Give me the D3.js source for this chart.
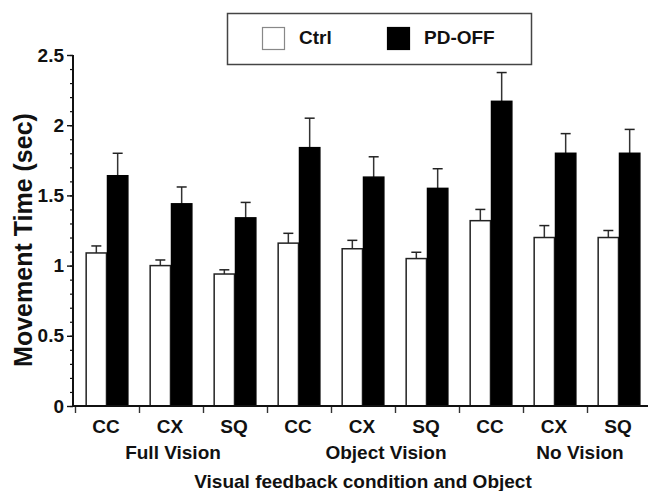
<!DOCTYPE html>
<html>
<head>
<meta charset="utf-8">
<script src="https://cdn.jsdelivr.net/npm/d3@7"></script>
<style>
  html, body { margin: 0; padding: 0; background: #fff; }
  svg { display: block; font-family: "Liberation Sans", Arial, sans-serif; font-weight: bold; }
</style>
</head>
<body>
<svg id="chart" width="648" height="491"></svg>
<script>
// Movement time per visual-feedback condition and object shape
const conditions = ["Full Vision", "Object Vision", "No Vision"];
const objects = ["CC", "CX", "SQ"];
const series = ["Ctrl", "PD-OFF"];

const ctrlMean = [1.09, 1.00, 0.94, 1.16, 1.12, 1.05, 1.32, 1.20, 1.20];
const ctrlErr  = [0.05, 0.04, 0.03, 0.07, 0.06, 0.045, 0.08, 0.085, 0.05];
const pdMean   = [1.64, 1.44, 1.34, 1.84, 1.63, 1.55, 2.17, 1.80, 1.80];
const pdErr    = [0.16, 0.12, 0.11, 0.21, 0.145, 0.14, 0.205, 0.14, 0.17];

const yMajorTicks = [0, 0.5, 1, 1.5, 2, 2.5];
const yMinorTicks = d3.range(0, 2.5001, 0.1);

const xTitle = "Visual feedback condition and Object";
const yTitle = "Movement Time (sec)";

// ---- layout ----
const svg = d3.select("#chart");
const plot = { left: 75, right: 651, top: 55, bottom: 406 };
const axisX = 73;
const ink = "#111";

// one band per condition/object cell
const cells = d3.range(conditions.length * objects.length);
const x = d3.scaleBand().domain(cells).range([plot.left, plot.right]).padding(0);
const xs = d3.scaleBand().domain(series).range([0, x.bandwidth()]).paddingInner(0).paddingOuter(0.5);
const xEdge = d3.scaleLinear().domain([0, cells.length]).range([plot.left, plot.right]);
const y = d3.scaleLinear().domain([0, 2.5]).range([plot.bottom, plot.top]);

const rows = cells.map(i => ({
  i,
  values: [
    { key: "Ctrl", mean: ctrlMean[i], err: ctrlErr[i] },
    { key: "PD-OFF", mean: pdMean[i], err: pdErr[i] }
  ]
}));

// ---- bars ----
const cell = svg.append("g").selectAll("g").data(rows).join("g")
  .attr("transform", d => `translate(${x(d.i)},0)`);

// error bars (upper half only), drawn beneath the bars
cell.selectAll("g.err").data(d => d.values).join("g").attr("class", "err")
  .each(function (d) {
    const g = d3.select(this);
    const cx = xs(d.key) + xs.bandwidth() / 2;
    g.append("line")
      .attr("x1", cx).attr("x2", cx)
      .attr("y1", y(d.mean)).attr("y2", y(d.mean + d.err))
      .attr("stroke", "#333").attr("stroke-width", 1.5);
    g.append("line")
      .attr("x1", cx - 5).attr("x2", cx + 5)
      .attr("y1", y(d.mean + d.err)).attr("y2", y(d.mean + d.err))
      .attr("stroke", "#222").attr("stroke-width", 1.5);
  });

cell.selectAll("rect").data(d => d.values).join("rect")
  .attr("x", d => xs(d.key) + 0.5)
  .attr("y", d => y(d.mean))
  .attr("width", xs.bandwidth() - 1)
  .attr("height", d => y(0) - y(d.mean))
  .attr("fill", d => d.key === "Ctrl" ? "#fff" : "#000")
  .attr("stroke", d => d.key === "Ctrl" ? "#222" : "#000")
  .attr("stroke-width", 1.5);

// ---- y axis ----
const yAxisG = svg.append("g").attr("transform", `translate(${axisX},0)`);
yAxisG.call(d3.axisLeft(y).tickValues(yMinorTicks).tickSize(3).tickFormat(""))
  .call(g => g.select(".domain").remove())
  .call(g => g.selectAll("line").attr("stroke", ink).attr("stroke-width", 1.2));
const yMajor = svg.append("g").attr("transform", `translate(${axisX},0)`)
  .call(d3.axisLeft(y).tickValues(yMajorTicks).tickSize(6).tickPadding(3).tickFormat(d3.format("~g")));
yMajor.select(".domain").remove();
yMajor.selectAll("line").attr("stroke", ink).attr("stroke-width", 1.4);
yMajor.selectAll("text").attr("font-size", 19).attr("font-weight", "bold")
  .attr("font-family", "Liberation Sans, Arial, sans-serif").attr("fill", ink);
svg.append("line")
  .attr("x1", axisX).attr("x2", axisX)
  .attr("y1", y(2.5)).attr("y2", y(0) + 1)
  .attr("stroke", ink).attr("stroke-width", 2);

// ---- x axis ----
const xAxisG = svg.append("g").attr("transform", `translate(0,${plot.bottom})`)
  .call(d3.axisBottom(xEdge).tickValues(d3.range(0, cells.length + 1)).tickSize(7).tickFormat(""));
xAxisG.select(".domain").remove();
xAxisG.selectAll("line").attr("stroke", "#333").attr("stroke-width", 1.4);
svg.append("line")
  .attr("x1", axisX - 1).attr("x2", 648)
  .attr("y1", plot.bottom).attr("y2", plot.bottom)
  .attr("stroke", ink).attr("stroke-width", 2.2);

// object labels under each cell
svg.append("g").selectAll("text").data(cells).join("text")
  .attr("x", i => x(i) + x.bandwidth() / 2 - 1)
  .attr("y", 433)
  .attr("text-anchor", "middle")
  .attr("font-size", 19).attr("fill", ink)
  .text(i => objects[i % objects.length]);

// condition labels, each under the middle object of its group
const conditionShift = [2, 23, 25];
svg.append("g").selectAll("text").data(conditions).join("text")
  .attr("x", (c, k) => x(k * objects.length + 1) + x.bandwidth() / 2 + conditionShift[k])
  .attr("y", 459)
  .attr("text-anchor", "middle")
  .attr("font-size", 19).attr("fill", ink)
  .text(c => c);

svg.append("text")
  .attr("x", (plot.left + plot.right) / 2)
  .attr("y", 488)
  .attr("text-anchor", "middle")
  .attr("font-size", 19).attr("fill", ink)
  .text(xTitle);

svg.append("text")
  .attr("transform", `translate(32,240) rotate(-90)`)
  .attr("text-anchor", "middle")
  .attr("font-size", 25).attr("fill", ink)
  .text(yTitle);

// ---- legend ----
const legend = svg.append("g");
legend.append("rect")
  .attr("x", 227.5).attr("y", 13.5).attr("width", 304).attr("height", 51)
  .attr("fill", "#fff").attr("stroke", "#444").attr("stroke-width", 1.5);
const legendX = d3.scalePoint().domain(series).range([262, 387]);
const item = legend.selectAll("g").data(series).join("g")
  .attr("transform", d => `translate(${legendX(d)},27)`);
item.append("rect")
  .attr("x", 0.5).attr("y", 0.5).attr("width", 22).attr("height", 22)
  .attr("fill", d => d === "Ctrl" ? "#fff" : "#000")
  .attr("stroke", d => d === "Ctrl" ? "#888" : "#000").attr("stroke-width", 1.2);
item.append("text")
  .attr("x", 37).attr("y", 17)
  .attr("font-size", 19).attr("fill", ink)
  .text(d => d);
</script>
</body>
</html>
